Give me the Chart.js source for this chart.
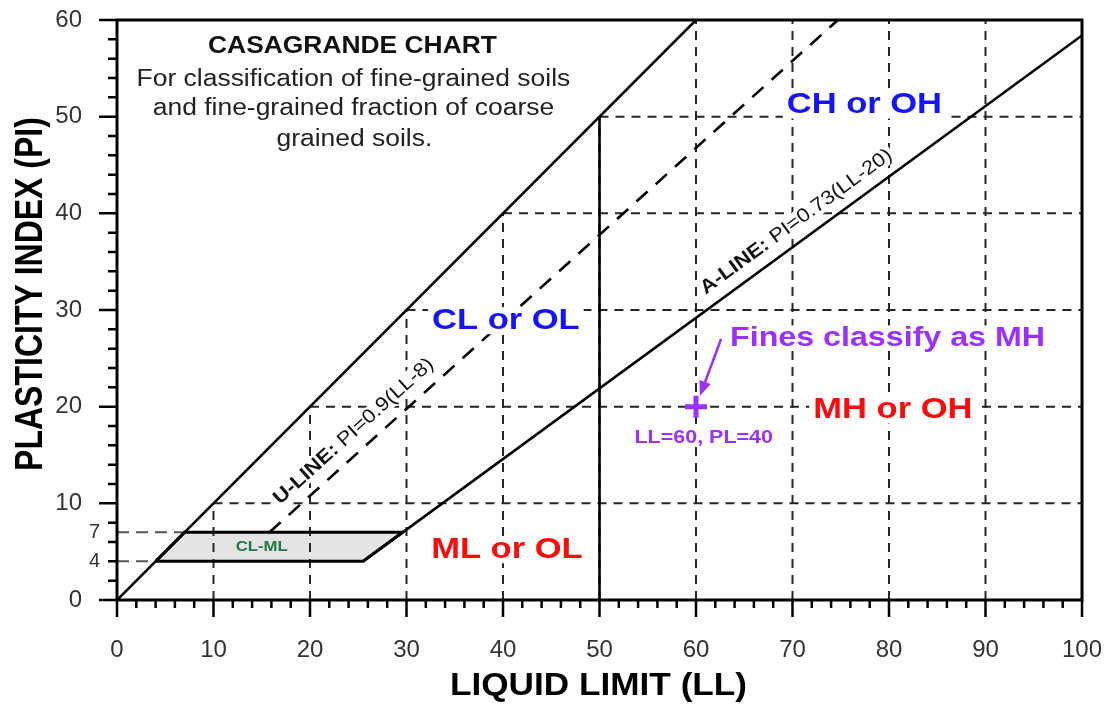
<!DOCTYPE html>
<html lang="en">
<head>
<meta charset="UTF-8" />
<title>Casagrande Chart</title>
<script src="https://cdn.jsdelivr.net/npm/chart.js"></script>
<style>
  body { margin: 0; background: #fff; }
  #wrap { width: 1113px; height: 706px; position: relative; }
</style>
</head>
<body>
<div id="wrap"><canvas id="casagrande"></canvas></div>
<script>
  // axis ranges and grid
  const llRange = [0, 100];
  const piRange = [0, 60];
  const gridLL = [10, 20, 30, 40, 50, 60, 70, 80, 90];
  const gridPI = [10, 20, 30, 40, 50];
  const bandPI = [4, 7];                      // CL-ML band limits (extra y labels)

  // boundary lines
  const maxLineLL = [0, 60],      maxLinePI = [0, 60];       // PI = LL
  const uLineLL = [15.8, 74.7],   uLinePI = [7, 60];          // PI = 0.9(LL-8)
  const aLineLL = [25.5, 100],    aLinePI = [4, 58.4];        // PI = 0.73(LL-20)
  const dividerLL = [50, 50],     dividerPI = [0, 50];        // LL = 50
  const clmlLL = [4, 7, 29.6, 25.5, 4], clmlPI = [4, 7, 7, 4, 4];

  // sample
  const sampleLL = [60], samplePI = [20];

  const FONT = "'Liberation Sans', Arial, sans-serif";
  const BLUE = '#1414ff', RED = '#ff0a0a', PURPLE = '#9b30ff', GREEN = '#1e7b46';
  Chart.defaults.font.family = FONT;

  const pairs = (xs, ys) => xs.map((v, i) => ({ x: v, y: ys[i] }));
  const line = (pts, style) => Object.assign({
    data: pts, showLine: true, pointRadius: 0, fill: false, tension: 0,
    borderColor: '#000', borderWidth: 2.6, order: 1
  }, style);
  const gridStyle = { borderColor: '#262626', borderWidth: 2, borderDash: [9, 7], order: 10 };
  const bandStyle = { borderColor: '#555', borderWidth: 2, borderDash: [12, 7], order: 10 };

  // draw text stretched horizontally (the source lettering is wide)
  function stretchedText(ctx, text, x, y, font, color, sx, bg) {
    ctx.save();
    ctx.font = font;
    ctx.textAlign = 'center';
    ctx.textBaseline = 'middle';
    const size = parseFloat(font.match(/([\d.]+)px/)[1]);
    const w = ctx.measureText(text).width * sx;
    if (bg) {
      ctx.fillStyle = '#fff';
      ctx.fillRect(x - w / 2 - 4, y - size * 0.45, w + 8, size * 0.9);
    }
    ctx.translate(x, y);
    ctx.scale(sx, 1);
    ctx.fillStyle = color;
    ctx.fillText(text, 0, 0);
    ctx.restore();
  }

  function lineLabel(ctx, bold, rest, x, y, ang, offset) {
    const size = 19.5, sx = 1.12;
    ctx.save();
    ctx.translate(x, y);
    ctx.rotate(-ang);
    ctx.translate(0, -offset);
    ctx.scale(sx, 1);
    ctx.textAlign = 'left';
    ctx.textBaseline = 'alphabetic';
    ctx.font = 'bold ' + size + 'px ' + FONT;
    const w1 = ctx.measureText(bold).width;
    ctx.font = size + 'px ' + FONT;
    const w2 = ctx.measureText(rest).width;
    ctx.fillStyle = '#fff';
    ctx.fillRect(-2, -size * 0.78, w1 + w2 + 4, size * 0.98);
    ctx.fillStyle = '#111';
    ctx.font = 'bold ' + size + 'px ' + FONT;
    ctx.fillText(bold, 0, 0);
    ctx.font = size + 'px ' + FONT;
    ctx.fillText(rest, w1, 0);
    ctx.restore();
  }

  const annotate = {
    id: 'annotate',
    afterDatasetsDraw(chart) {
      const { ctx, scales: { x, y } } = chart;
      const P = (ll, pi) => [x.getPixelForValue(ll), y.getPixelForValue(pi)];

      // rotated line labels
      const [ux0, uy0] = P(uLineLL[0], uLinePI[0]), [ux1, uy1] = P(uLineLL[1], uLinePI[1]);
      const [ax0, ay0] = P(aLineLL[0], aLinePI[0]), [ax1, ay1] = P(aLineLL[1], aLinePI[1]);
      const uAng = Math.atan2(uy0 - uy1, ux1 - ux0);
      const aAng = Math.atan2(ay0 - ay1, ax1 - ax0);
      let [lx, ly] = P(17.8, 8.82);
      lineLabel(ctx, 'U-LINE:', ' PI=0.9(LL-8)', lx, ly, uAng, 13);
      [lx, ly] = P(61.8, 30.5);
      lineLabel(ctx, 'A-LINE:', ' PI=0.73(LL-20)', lx, ly, aAng, 13);

      // title block
      let [tx, ty] = P(24.4, 57.26);
      stretchedText(ctx, 'CASAGRANDE CHART', tx, ty, 'bold 24px ' + FONT, '#111', 1.1, false);
      [tx, ty] = P(24.5, 53.8);
      stretchedText(ctx, 'For classification of fine-grained soils', tx, ty, '23px ' + FONT, '#222', 1.15, false);
      [tx, ty] = P(24.5, 50.85);
      stretchedText(ctx, 'and fine-grained fraction of coarse', tx, ty, '23px ' + FONT, '#222', 1.15, false);
      [tx, ty] = P(24.6, 47.6);
      stretchedText(ctx, 'grained soils.', tx, ty, '23px ' + FONT, '#222', 1.15, false);

      // zone labels
      const zones = [
        ['CL or OL', 40.3, 28.9, BLUE],
        ['CH or OH', 77.45, 51.2, BLUE],
        ['ML or OL', 40.4, 5.2, RED],
        ['MH or OH', 80.4, 19.65, RED]
      ];
      zones.forEach(([t, ll, pi, c]) => {
        const [zx, zy] = P(ll, pi);
        stretchedText(ctx, t, zx, zy, 'bold 30px ' + FONT, c, 1.15, true);
      });

      [tx, ty] = P(15, 5.5);
      stretchedText(ctx, 'CL-ML', tx, ty, 'bold 15px ' + FONT, GREEN, 1.12, false);

      // sample annotation
      [tx, ty] = P(79.85, 27.1);
      stretchedText(ctx, 'Fines classify as MH', tx, ty, 'bold 28px ' + FONT, PURPLE, 1.15, true);
      [tx, ty] = P(60.8, 16.75);
      stretchedText(ctx, 'LL=60, PL=40', tx, ty, 'bold 19px ' + FONT, PURPLE, 1.13, true);

      const [sx0, sy0] = P(62.6, 27.0), [sx1, sy1] = P(60.4, 21.1);
      const ang = Math.atan2(sy1 - sy0, sx1 - sx0);
      ctx.save();
      ctx.strokeStyle = PURPLE; ctx.fillStyle = PURPLE; ctx.lineWidth = 2.5;
      ctx.beginPath();
      ctx.moveTo(sx0, sy0);
      ctx.lineTo(sx1 - 12 * Math.cos(ang), sy1 - 12 * Math.sin(ang));
      ctx.stroke();
      ctx.beginPath();
      ctx.moveTo(sx1, sy1);
      ctx.lineTo(sx1 - 15 * Math.cos(ang) + 6 * Math.sin(ang), sy1 - 15 * Math.sin(ang) - 6 * Math.cos(ang));
      ctx.lineTo(sx1 - 15 * Math.cos(ang) - 6 * Math.sin(ang), sy1 - 15 * Math.sin(ang) + 6 * Math.cos(ang));
      ctx.closePath();
      ctx.fill();
      ctx.restore();
    },
    afterDraw(chart) {
      const { ctx, chartArea: a, scales: { x, y } } = chart;
      ctx.save();
      ctx.strokeStyle = '#000';
      ctx.lineWidth = 2.5;
      ctx.beginPath();
      for (let v = llRange[0]; v <= llRange[1]; v += 2) {
        const xp = x.getPixelForValue(v);
        ctx.moveTo(xp, a.bottom);
        ctx.lineTo(xp, a.bottom + (v % 10 === 0 ? 17 : 8));
      }
      for (let v = piRange[0]; v <= piRange[1]; v += 2) {
        const yp = y.getPixelForValue(v);
        ctx.moveTo(a.left, yp);
        ctx.lineTo(a.left - (v % 10 === 0 ? 18 : 9), yp);
      }
      ctx.stroke();
      ctx.lineWidth = 3;
      ctx.strokeRect(a.left, a.top, a.right - a.left, a.bottom - a.top);

      // small band labels
      ctx.font = '20px ' + FONT;
      ctx.fillStyle = '#333';
      ctx.textAlign = 'right';
      ctx.textBaseline = 'middle';
      bandPI.forEach(v => ctx.fillText(String(v), a.left - 17, y.getPixelForValue(v)));

      // axis titles
      ctx.fillStyle = '#000';
      ctx.font = 'bold 32px ' + FONT;
      ctx.textAlign = 'center';
      ctx.textBaseline = 'alphabetic';
      ctx.save();
      ctx.translate((a.left + a.right) / 2 - 1, 695);
      ctx.scale(1.1, 1);
      ctx.fillText('LIQUID LIMIT (LL)', 0, 0);
      ctx.restore();
      ctx.save();
      ctx.translate(42, 294);
      ctx.rotate(-Math.PI / 2);
      ctx.scale(1, 1.2);
      ctx.fillText('PLASTICITY INDEX (PI)', 0, 0);
      ctx.restore();
      ctx.restore();
    }
  };

  // tick marks are drawn by the plugin; the transparent Chart.js tick length only offsets the labels
  const hiddenTicks = len => ({ display: true, drawOnChartArea: false, drawTicks: true, tickLength: len, tickColor: 'rgba(0,0,0,0)' });

  new Chart(document.getElementById('casagrande').getContext('2d'), {
    type: 'scatter',
    data: {
      datasets: [
        line(pairs(sampleLL, samplePI), { showLine: false, pointStyle: 'cross', pointRadius: 11,
          borderWidth: 5, borderColor: PURPLE, order: 0 }),
        line(pairs(maxLineLL, maxLinePI)),
        line(pairs(aLineLL, aLinePI)),
        line(pairs(dividerLL, dividerPI)),
        line(pairs(uLineLL, uLinePI), { borderDash: [15, 11] }),
        line(pairs(clmlLL, clmlPI), { borderWidth: 3 }),
        ...gridLL.map(v => line([{ x: v, y: 0 }, { x: v, y: Math.min(v, piRange[1]) }], gridStyle)),
        ...gridPI.map(v => line([{ x: v, y: v }, { x: llRange[1], y: v }], gridStyle)),
        ...bandPI.map(v => line([{ x: 0, y: v }, { x: v, y: v }], bandStyle)),
        line(pairs(clmlLL, clmlPI), { borderWidth: 0, fill: 'shape', backgroundColor: '#e4e4e4', order: 20 })
      ]
    },
    options: {
      responsive: true,
      maintainAspectRatio: false,
      animation: false,
      events: [],
      layout: { padding: { top: 20, right: 31, left: 0, bottom: 0 } },
      plugins: { legend: { display: false }, tooltip: { enabled: false } },
      scales: {
        x: {
          type: 'linear', min: llRange[0], max: llRange[1],
          ticks: { stepSize: 10, color: '#333', font: { size: 24 }, padding: 0 },
          grid: hiddenTicks(36),
          border: { display: false },
          afterFit(s) { s.height = 106; }
        },
        y: {
          type: 'linear', min: piRange[0], max: piRange[1],
          ticks: { stepSize: 10, color: '#333', font: { size: 24 }, padding: 0 },
          grid: hiddenTicks(35),
          border: { display: false },
          afterFit(s) { s.width = 117; }
        }
      }
    },
    plugins: [annotate]
  });
</script>
</body>
</html>
